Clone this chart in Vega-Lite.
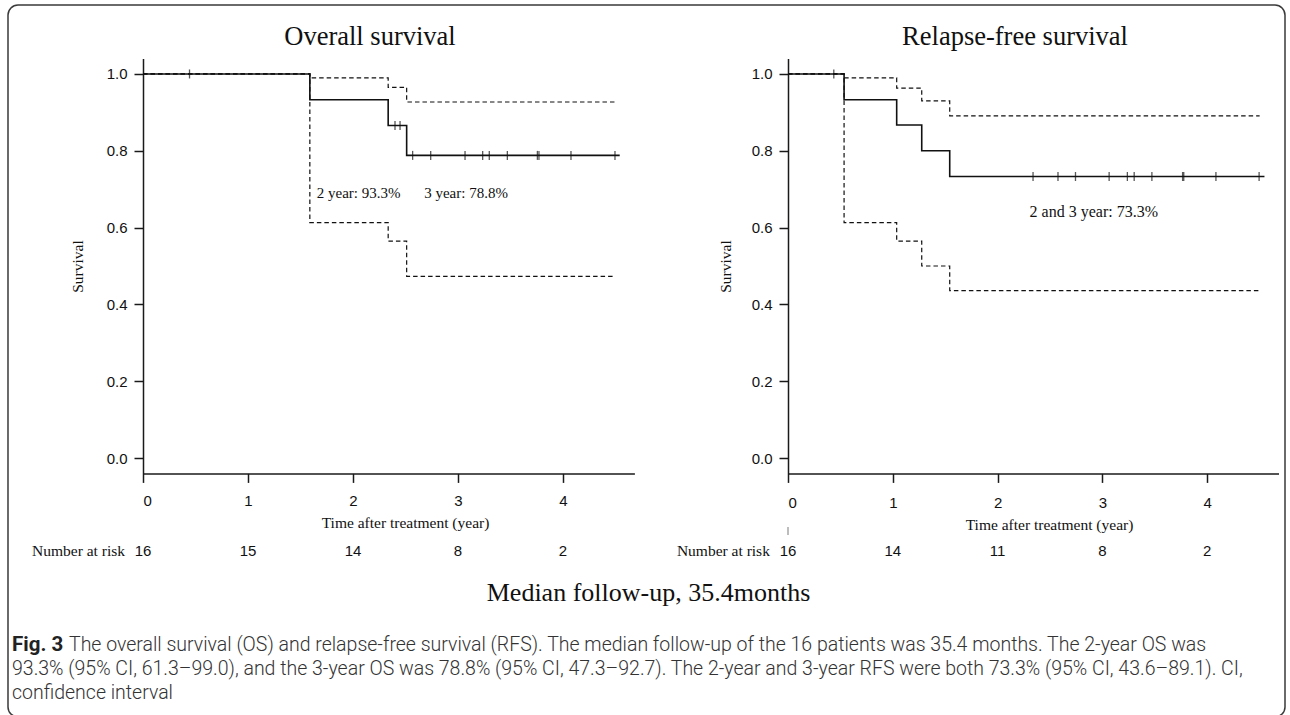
{
  "$schema": "https://vega.github.io/schema/vega-lite/v6.json",
  "width": 1277,
  "height": 712,
  "autosize": {"type": "none"},
  "padding": {"left": 8, "top": 5, "right": 5, "bottom": 0},
  "background": "white",
  "config": {
    "view": {"stroke": "#3a3a3a", "strokeWidth": 1.5, "cornerRadius": 10},
    "axis": {"grid": false, "domainColor": "#1a1a1a", "domainWidth": 1.5, "tickColor": "#1a1a1a", "tickWidth": 1.5, "tickSize": 9, "labelFont": "Liberation Sans", "labelFontSize": 15, "labelColor": "#111", "titleFont": "Liberation Serif", "titleFontSize": 15.5, "titleFontWeight": "normal", "titleColor": "#111"},
    "text": {"font": "Liberation Serif", "color": "#111"}
  },
  "datasets": {
    "os_curve": [
      {"series": "est", "t": 0, "s": 1}, {"series": "est", "t": 1.589, "s": 0.933}, {"series": "est", "t": 2.335, "s": 0.866}, {"series": "est", "t": 2.511, "s": 0.788}, {"series": "est", "t": 4.54, "s": 0.788},
      {"series": "upper", "t": 0, "s": 1}, {"series": "upper", "t": 1.589, "s": 0.99}, {"series": "upper", "t": 2.335, "s": 0.965}, {"series": "upper", "t": 2.511, "s": 0.927}, {"series": "upper", "t": 4.5, "s": 0.927},
      {"series": "lower", "t": 0, "s": 1}, {"series": "lower", "t": 1.589, "s": 0.613}, {"series": "lower", "t": 2.335, "s": 0.565}, {"series": "lower", "t": 2.511, "s": 0.473}, {"series": "lower", "t": 4.5, "s": 0.473}
    ],
    "os_censor": [
      {"t": 0.443, "s": 1}, {"t": 2.4, "s": 0.866}, {"t": 2.448, "s": 0.866},
      {"t": 2.568, "s": 0.788}, {"t": 2.74, "s": 0.788}, {"t": 3.067, "s": 0.788}, {"t": 3.235, "s": 0.788}, {"t": 3.298, "s": 0.788}, {"t": 3.47, "s": 0.788}, {"t": 3.756, "s": 0.788}, {"t": 3.771, "s": 0.788}, {"t": 4.076, "s": 0.788}, {"t": 4.495, "s": 0.788}
    ],
    "os_risk": [{"t": 0, "n": 16}, {"t": 1, "n": 15}, {"t": 2, "n": 14}, {"t": 3, "n": 8}, {"t": 4, "n": 2}],
    "rfs_curve": [
      {"series": "est", "t": 0, "s": 1}, {"series": "est", "t": 0.535, "s": 0.933}, {"series": "est", "t": 1.037, "s": 0.867}, {"series": "est", "t": 1.276, "s": 0.8}, {"series": "est", "t": 1.543, "s": 0.733}, {"series": "est", "t": 4.546, "s": 0.733},
      {"series": "upper", "t": 0, "s": 1}, {"series": "upper", "t": 0.535, "s": 0.99}, {"series": "upper", "t": 1.037, "s": 0.963}, {"series": "upper", "t": 1.276, "s": 0.93}, {"series": "upper", "t": 1.543, "s": 0.891}, {"series": "upper", "t": 4.5, "s": 0.891},
      {"series": "lower", "t": 0, "s": 1}, {"series": "lower", "t": 0.535, "s": 0.613}, {"series": "lower", "t": 1.037, "s": 0.565}, {"series": "lower", "t": 1.276, "s": 0.5}, {"series": "lower", "t": 1.543, "s": 0.436}, {"series": "lower", "t": 4.49, "s": 0.436}
    ],
    "rfs_censor": [
      {"t": 0.437, "s": 1},
      {"t": 2.338, "s": 0.733}, {"t": 2.576, "s": 0.733}, {"t": 2.743, "s": 0.733}, {"t": 3.064, "s": 0.733}, {"t": 3.238, "s": 0.733}, {"t": 3.303, "s": 0.733}, {"t": 3.472, "s": 0.733}, {"t": 3.765, "s": 0.733}, {"t": 3.776, "s": 0.733}, {"t": 4.083, "s": 0.733}, {"t": 4.495, "s": 0.733}
    ],
    "rfs_risk": [{"t": 0, "n": 16}, {"t": 1, "n": 14}, {"t": 2, "n": 11}, {"t": 3, "n": 8}, {"t": 4, "n": 2}],
    "caption": [
      {"line": 1, "text": "The overall survival (OS) and relapse-free survival (RFS). The median follow-up of the 16 patients was 35.4 months. The 2-year OS was"},
      {"line": 2, "text": "93.3% (95% CI, 61.3–99.0), and the 3-year OS was 78.8% (95% CI, 47.3–92.7). The 2-year and 3-year RFS were both 73.3% (95% CI, 43.6–89.1). CI,"},
      {"line": 3, "text": "confidence interval"}
    ],
    "one": [{}]
  },
  "layer": [
    {
      "layer": [
        {
          "data": {"name": "os_curve"},
          "transform": [{"filter": "datum.series !== 'est'"}],
          "mark": {"type": "line", "interpolate": "step-after", "strokeDash": [4.5, 3], "strokeWidth": 1.2, "color": "#111"},
          "encoding": {
            "x": {"field": "t", "type": "quantitative", "scale": {"domain": [0, 4.68], "range": [135, 626.4], "nice": false, "zero": false},
                  "axis": {"orient": "bottom", "offset": -243.6, "values": [0, 1, 2, 3, 4], "format": "d", "title": "Time after treatment (year)", "titleX": 397, "titleY": 48.6, "titleBaseline": "middle", "labelPadding": 11}},
            "y": {"field": "s", "type": "quantitative", "scale": {"domain": [-0.04, 1.04], "range": [468.4, 53.6], "nice": false, "zero": false},
                  "axis": {"orient": "left", "offset": -135, "values": [0, 0.2, 0.4, 0.6, 0.8, 1], "format": ".1f", "title": "Survival", "titleX": -66, "titleY": 261, "titleBaseline": "middle", "labelPadding": 7}},
            "detail": {"field": "series"}
          }
        },
        {
          "data": {"name": "os_curve"},
          "transform": [{"filter": "datum.series === 'est'"}],
          "mark": {"type": "line", "interpolate": "step-after", "strokeWidth": 1.6, "color": "#111"},
          "encoding": {"x": {"field": "t", "type": "quantitative"}, "y": {"field": "s", "type": "quantitative"}}
        },
        {
          "data": {"name": "os_censor"},
          "mark": {"type": "tick", "orient": "vertical", "size": 9, "thickness": 1.3, "color": "#111"},
          "encoding": {"x": {"field": "t", "type": "quantitative"}, "y": {"field": "s", "type": "quantitative"}}
        },
        {
          "data": {"name": "os_risk"},
          "mark": {"type": "text", "font": "Liberation Sans", "fontSize": 15, "align": "center", "baseline": "middle"},
          "encoding": {"x": {"field": "t", "type": "quantitative"}, "y": {"datum": -0.242}, "text": {"field": "n"}}
        },
        {
          "data": {"name": "one"},
          "mark": {"type": "text", "fontSize": 15.5, "align": "left", "baseline": "middle"},
          "encoding": {"x": {"datum": -1.057}, "y": {"datum": -0.242}, "text": {"value": "Number at risk"}}
        },
        {
          "data": {"name": "one"},
          "mark": {"type": "text", "fontSize": 26.5, "align": "center", "baseline": "middle"},
          "encoding": {"x": {"datum": 2.162}, "y": {"datum": 1.095}, "text": {"value": "Overall survival"}}
        },
        {
          "data": {"name": "one"},
          "mark": {"type": "text", "fontSize": 15, "align": "left", "baseline": "middle"},
          "encoding": {"x": {"datum": 1.655}, "y": {"datum": 0.689}, "text": {"value": "2 year: 93.3%"}}
        },
        {
          "data": {"name": "one"},
          "mark": {"type": "text", "fontSize": 15, "align": "left", "baseline": "middle"},
          "encoding": {"x": {"datum": 2.678}, "y": {"datum": 0.689}, "text": {"value": "3 year: 78.8%"}}
        }
      ]
    },
    {
      "layer": [
        {
          "data": {"name": "rfs_curve"},
          "transform": [{"filter": "datum.series !== 'est'"}],
          "mark": {"type": "line", "interpolate": "step-after", "strokeDash": [4.5, 3], "strokeWidth": 1.2, "color": "#111"},
          "encoding": {
            "x": {"field": "t", "type": "quantitative", "scale": {"domain": [0, 4.68], "range": [780, 1270.5], "nice": false, "zero": false},
                  "axis": {"orient": "bottom", "offset": -243.6, "values": [0, 1, 2, 3, 4], "format": "d", "title": "Time after treatment (year)", "titleX": 1041, "titleY": 50.6, "titleBaseline": "middle", "labelPadding": 13}},
            "y": {"field": "s", "type": "quantitative", "scale": {"domain": [-0.04, 1.04], "range": [468.4, 53.6], "nice": false, "zero": false},
                  "axis": {"orient": "left", "offset": -780, "values": [0, 0.2, 0.4, 0.6, 0.8, 1], "format": ".1f", "title": "Survival", "titleX": -63, "titleY": 261, "titleBaseline": "middle", "labelPadding": 7}},
            "detail": {"field": "series"}
          }
        },
        {
          "data": {"name": "rfs_curve"},
          "transform": [{"filter": "datum.series === 'est'"}],
          "mark": {"type": "line", "interpolate": "step-after", "strokeWidth": 1.6, "color": "#111"},
          "encoding": {"x": {"field": "t", "type": "quantitative"}, "y": {"field": "s", "type": "quantitative"}}
        },
        {
          "data": {"name": "rfs_censor"},
          "mark": {"type": "tick", "orient": "vertical", "size": 9, "thickness": 1.3, "color": "#111"},
          "encoding": {"x": {"field": "t", "type": "quantitative"}, "y": {"field": "s", "type": "quantitative"}}
        },
        {
          "data": {"name": "rfs_risk"},
          "mark": {"type": "text", "font": "Liberation Sans", "fontSize": 15, "align": "center", "baseline": "middle"},
          "encoding": {"x": {"field": "t", "type": "quantitative"}, "y": {"datum": -0.242}, "text": {"field": "n"}}
        },
        {
          "data": {"name": "one"},
          "mark": {"type": "tick", "orient": "vertical", "size": 8, "thickness": 1, "color": "#444"},
          "encoding": {"x": {"datum": 0}, "y": {"datum": -0.19}}
        },
        {
          "data": {"name": "one"},
          "mark": {"type": "text", "fontSize": 15.5, "align": "left", "baseline": "middle"},
          "encoding": {"x": {"datum": -1.06}, "y": {"datum": -0.242}, "text": {"value": "Number at risk"}}
        },
        {
          "data": {"name": "one"},
          "mark": {"type": "text", "fontSize": 26.5, "align": "center", "baseline": "middle"},
          "encoding": {"x": {"datum": 2.166}, "y": {"datum": 1.095}, "text": {"value": "Relapse-free survival"}}
        },
        {
          "data": {"name": "one"},
          "mark": {"type": "text", "fontSize": 16, "align": "left", "baseline": "middle"},
          "encoding": {"x": {"datum": 2.305}, "y": {"datum": 0.641}, "text": {"value": "2 and 3 year: 73.3%"}}
        }
      ]
    },
    {
      "layer": [
        {
          "data": {"name": "caption"},
          "transform": [{"filter": "datum.line === 1"}],
          "mark": {"type": "text", "align": "left", "baseline": "middle", "font": "Roboto", "fontSize": 19.5, "fontWeight": 300, "color": "#333", "dx": 57},
          "encoding": {
            "x": {"datum": 0, "scale": {"domain": [0, 1], "range": [4, 1277]}, "axis": null},
            "y": {"field": "line", "type": "quantitative", "scale": {"domain": [1, 3], "range": [640, 688]}, "axis": null},
            "text": {"field": "text"}
          }
        },
        {
          "data": {"name": "caption"},
          "transform": [{"filter": "datum.line > 1"}],
          "mark": {"type": "text", "align": "left", "baseline": "middle", "font": "Roboto", "fontSize": 19.5, "fontWeight": 300, "color": "#333"},
          "encoding": {"x": {"datum": 0}, "y": {"field": "line", "type": "quantitative"}, "text": {"field": "text"}}
        },
        {
          "data": {"name": "one"},
          "mark": {"type": "text", "align": "left", "baseline": "middle", "font": "Roboto", "fontSize": 20.5, "fontWeight": "bold", "color": "#222"},
          "encoding": {"x": {"datum": 0}, "y": {"datum": 1}, "text": {"value": "Fig. 3"}}
        },
        {
          "data": {"name": "one"},
          "mark": {"type": "text", "align": "center", "baseline": "middle", "font": "Liberation Serif", "fontSize": 26, "color": "#111"},
          "encoding": {"x": {"datum": 0.5}, "y": {"datum": -1.167}, "text": {"value": "Median follow-up, 35.4months"}}
        }
      ]
    }
  ],
  "resolve": {"scale": {"x": "independent", "y": "independent"}, "axis": {"x": "independent", "y": "independent"}}
}
